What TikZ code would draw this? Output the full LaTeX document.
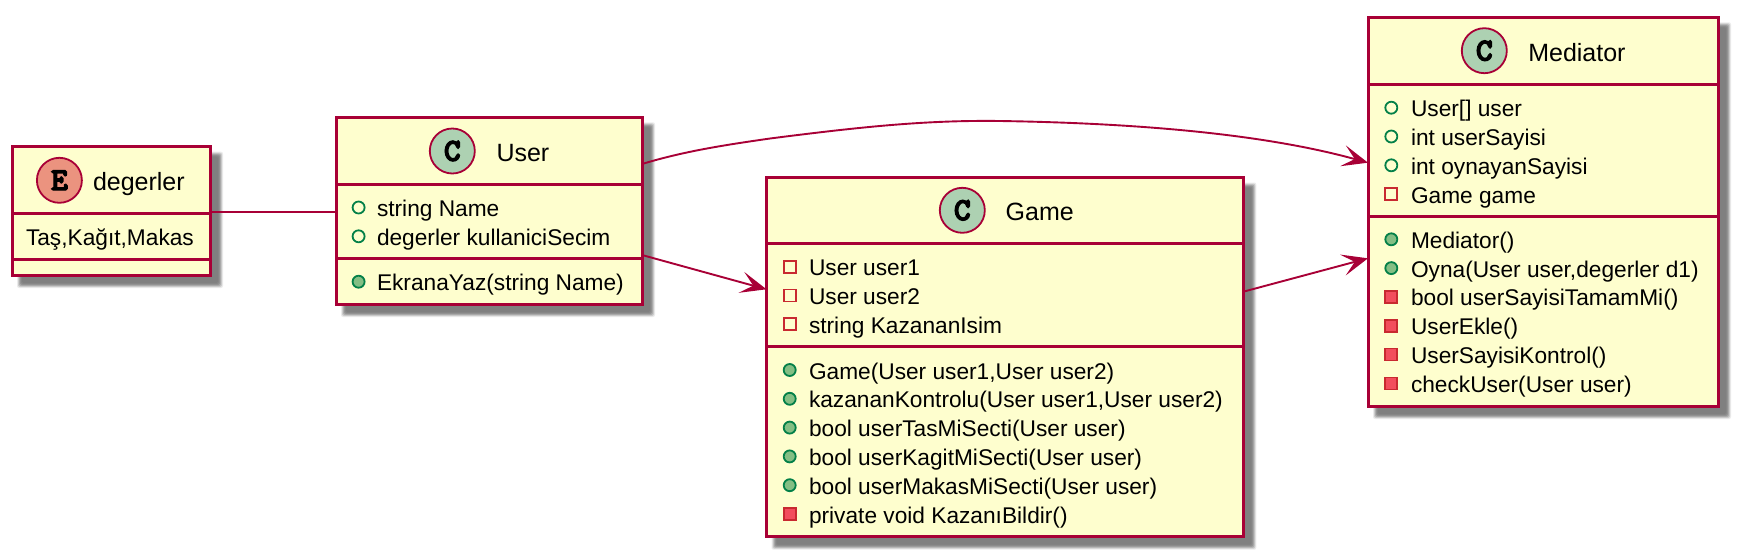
\documentclass[tikz,border=0pt]{standalone}
\usepackage{fontspec}
\setmainfont{Liberation Sans}
\usetikzlibrary{arrows.meta}
\definecolor{umlline}{HTML}{A80036}
\definecolor{umlfill}{HTML}{FEFECE}
\definecolor{spotC}{HTML}{ADD1B2}
\definecolor{spotE}{HTML}{EB937F}
\definecolor{publine}{HTML}{038048}
\definecolor{pubfill}{HTML}{84BE84}
\definecolor{privline}{HTML}{C82930}
\definecolor{privfill}{HTML}{F24D5C}
\tikzset{
  classbox/.style={draw=umlline,fill=umlfill,line width=3pt,inner sep=0pt,outer sep=0pt,rectangle},
  sepline/.style={draw=umlline,line width=3pt},
  spot/.style={circle,draw=umlline,line width=1.8pt,minimum size=45pt,inner sep=0pt,outer sep=0pt,font=\fontsize{32}{32}\ttfamily\bfseries},
  titletext/.style={anchor=base west,inner sep=0pt,outer sep=0pt,text=black,font=\fontsize{25}{30}\selectfont},
  rowtext/.style={anchor=base west,inner sep=0pt,outer sep=0pt,text=black,font=\fontsize{22.7}{27}\selectfont},
  pubfield/.style={circle,draw=publine,line width=1.8pt,fill=umlfill,minimum size=12pt,inner sep=0pt},
  pubmethod/.style={circle,draw=publine,line width=1.8pt,fill=pubfill,minimum size=12pt,inner sep=0pt},
  privfield/.style={rectangle,draw=privline,line width=1.8pt,fill=umlfill,minimum size=12pt,inner sep=0pt},
  privmethod/.style={rectangle,draw=privline,line width=1.8pt,fill=privfill,minimum size=12pt,inner sep=0pt},
  assoc/.style={draw=umlline,line width=1.9pt},
  dep/.style={draw=umlline,line width=1.9pt,-{Stealth[length=26pt,width=21.6pt,inset=12.3pt,line width=0pt,fill=umlline]}},
}
\newcommand{\spotglyph}[1]{\special{pdf:code q 2 Tr 1.3 w 0 0 0 RG}#1\special{pdf:code Q}}
% soft shadow: stacked rectangles from pale to dark
\newcommand{\softshadow}[4]{%
  \foreach \d/\g in {4/8,3/20,2/32,1/42,0/47,-1/50}{%
    \fill[black!\g!white,rounded corners=2pt]
      ({#1+9-\d},{#2+9-\d}) rectangle ({#3+9+\d},{#4+9+\d});
  }}
\newcommand{\umlbox}[5]{%
  \node[classbox,minimum width={#4-#2},minimum height={#5-#3}] (#1) at ({(#2+#4)/2},{(#3+#5)/2}) {};}
\newcommand{\sep}[2]{\draw[sepline] (#1.west |- 0,#2) -- (#1.east |- 0,#2);}
\newcommand{\row}[6]{% name, icon style, icon x, text x, baseline, text
  \node[#2] (#1i) at (#3,{#5-9}) {};
  \node[rowtext] (#1) at (#4,#5) {#6};}
\begin{document}
\begin{tikzpicture}[x=1pt,y=-1pt]
\useasboundingbox (0,0) rectangle (1739,557);
\softshadow{12}{146.7}{210}{275}
\softshadow{336}{117.3}{642}{304}
\softshadow{766.5}{177.5}{1243.3}{536.7}
\softshadow{1368}{17.3}{1718}{406}

\umlbox{deg}{12}{146.7}{210}{275}
\umlbox{user}{336}{117.3}{642}{304}
\umlbox{game}{766.5}{177.5}{1243.3}{536.7}
\umlbox{med}{1368}{17.3}{1718}{406}

\sep{deg}{213.3}\sep{deg}{259}
\sep{user}{184.3}\sep{user}{258.3}
\sep{game}{243}\sep{game}{346.7}
\sep{med}{84.3}\sep{med}{216.7}

\node[spot,fill=spotE] (degs) at (59.4,180.3) {\spotglyph{E}};
\node[titletext] (degt) at (93,190) {degerler};
\node[rowtext] (deg1) at (26,245.7) {Taş,Kağıt,Makas};

\node[spot,fill=spotC] (users) at (452.3,151) {\spotglyph{C}};
\node[titletext] (usert) at (496.5,161) {User};
\row{u1}{pubfield}{358.6}{377}{216.5}{string Name}
\row{u2}{pubfield}{358.6}{377}{245.3}{degerler kullaniciSecim}
\row{u3}{pubmethod}{358.6}{377}{290.7}{EkranaYaz(string Name)}

\node[spot,fill=spotC] (games) at (962.3,210.3) {\spotglyph{C}};
\node[titletext] (gamet) at (1005.7,220.7) {Game};
\row{g1}{privfield}{789.7}{809}{275.7}{User user1}
\row{g2}{privfield}{789.7}{809}{304.5}{User user2}
\row{g3}{privfield}{789.7}{809}{333.3}{string KazananIsim}
\row{g4}{pubmethod}{789.7}{809}{379}{Game(User user1,User user2)}
\row{g5}{pubmethod}{789.7}{809}{407.8}{kazananKontrolu(User user1,User user2)}
\row{g6}{pubmethod}{789.7}{809}{436.6}{bool userTasMiSecti(User user)}
\row{g7}{pubmethod}{789.7}{809}{465.4}{bool userKagitMiSecti(User user)}
\row{g8}{pubmethod}{789.7}{809}{494.2}{bool userMakasMiSecti(User user)}
\row{g9}{privmethod}{789.7}{809}{523}{private void KazanıBildir()}

\node[spot,fill=spotC] (meds) at (1484.3,50.7) {\spotglyph{C}};
\node[titletext] (medt) at (1528.3,61) {Mediator};
\row{m1}{pubfield}{1391.3}{1411}{116.7}{User[] user}
\row{m2}{pubfield}{1391.3}{1411}{145.5}{int userSayisi}
\row{m3}{pubfield}{1391.3}{1411}{174.3}{int oynayanSayisi}
\row{m4}{privfield}{1391.3}{1411}{203.2}{Game game}
\row{m5}{pubmethod}{1391.3}{1411}{248.3}{Mediator()}
\row{m6}{pubmethod}{1391.3}{1411}{277.1}{Oyna(User user,degerler d1)}
\row{m7}{privmethod}{1391.3}{1411}{305.9}{bool userSayisiTamamMi()}
\row{m8}{privmethod}{1391.3}{1411}{334.7}{UserEkle()}
\row{m9}{privmethod}{1391.3}{1411}{363.5}{UserSayisiKontrol()}
\row{m10}{privmethod}{1391.3}{1411}{392.5}{checkUser(User user)}

\draw[assoc] (deg.east |- 0,211.7) -- (user.west |- 0,211.7);
\draw[dep] (user.east |- 0,164) .. controls (685,151) and (725,145) .. (770,138.5)
   .. controls (860,127) and (925,120) .. (1000,121)
   .. controls (1130,123) and (1260,133) .. (med.west |- 0,162.7);
\draw[dep] (user.east |- 0,255) -- (game.west |- 0,289.3);
\draw[dep] (game.east |- 0,291.7) -- (med.west |- 0,258.3);
\end{tikzpicture}
\end{document}
